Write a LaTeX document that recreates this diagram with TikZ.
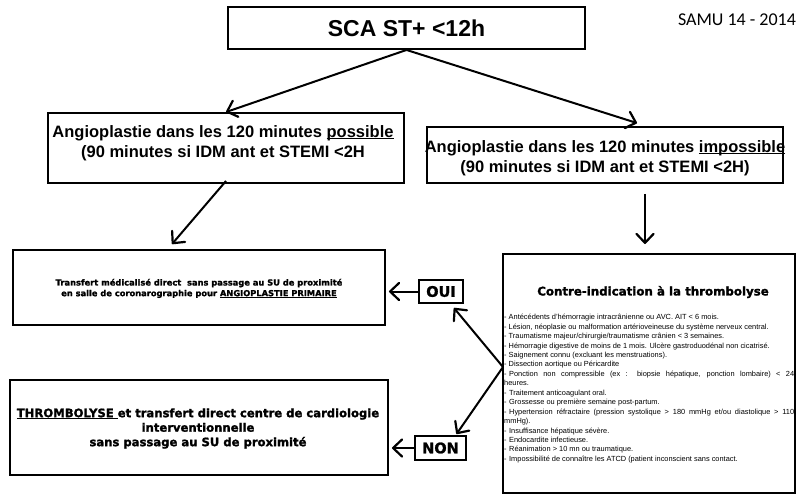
\documentclass[tikz,border=0pt]{standalone}
\usepackage{fontspec}
\setmainfont{Liberation Sans}
\newfontfamily\heavyfont{DejaVu Sans}[BoldFeatures={FakeBold=1.5}]
\newfontfamily\samufont{Carlito}
\usetikzlibrary{arrows.meta,calc}
\newcommand{\myul}[1]{\underline{\smash{#1}}}
\begin{document}
\begin{tikzpicture}[x=1pt,y=-1pt,
  box/.style={draw,line width=1.9pt,inner sep=0pt},
  arr/.style={line width=2pt,-{Straight Barb[length=9pt,width=17pt,line width=2.2pt,round]}},
  bigfont/.style={font=\bfseries\fontsize{16.5}{20}\selectfont,align=center,inner sep=0pt},
  heavy/.style={font=\heavyfont\bfseries\fontsize{#1}{#1}\selectfont,inner sep=0pt},
]
\useasboundingbox[fill=white] (0,0) rectangle (800,499);

% title
\node[box,minimum width=357pt,minimum height=42pt,font=\bfseries\fontsize{23}{26}\selectfont] (top) at (406.5,28) {SCA ST+ <12h};
\node[font=\samufont\fontsize{18}{20}\selectfont,inner sep=0pt] (samu) at (737,20) {SAMU 14 - 2014};

% second row
\node[box,minimum width=356pt,minimum height=70pt] (poss) at (226,148) {};
\node[bigfont] (posstxt) at (223,143) {Angioplastie dans les 120 minutes \myul{possible}\\(90 minutes si IDM ant et STEMI <2H};
\node[box,minimum width=356pt,minimum height=56pt] (imp) at (605,155) {};
\node[bigfont] (imptxt) at (605,158) {Angioplastie dans les 120 minutes \myul{impossible}\\(90 minutes si IDM ant et STEMI <2H)};

% transfert
\node[box,minimum width=372pt,minimum height=75pt] (trans) at (199,287.5) {};
\node[align=center,inner sep=0pt,font=\heavyfont\bfseries\fontsize{8.3}{10.7}\selectfont] (transtxt) at (199,288.5) {Transfert médicalisé direct\ \ sans passage au SU de proximité\\en salle de coronarographie pour \myul{ANGIOPLASTIE PRIMAIRE}};

% thrombolyse
\node[box,minimum width=378pt,minimum height=95pt] (thromb) at (199,427.5) {};
\node[align=center,inner sep=0pt,font=\heavyfont\bfseries\fontsize{11.6}{14.5}\selectfont] (thrombtxt) at (198,428.5) {\myul{THROMBOLYSE }et transfert direct centre de cardiologie\\interventionnelle\\sans passage au SU de proximité};

% OUI / NON
\node[box,minimum width=44pt,minimum height=23pt,heavy=14.5] (oui) at (441,291.5) {OUI};
\node[box,minimum width=51pt,minimum height=24pt,heavy=14.5] (non) at (440.5,448) {NON};

% contre-indication
\node[draw,line width=2pt,minimum width=292pt,minimum height=239pt,inner sep=0pt] (contre) at (649,373.5) {};
\node[heavy=11.8] (contretitle) at (653,292) {Contre-indication à la thrombolyse};
\node[anchor=north west,inner sep=0pt,text width=290pt,align=justify,
      font=\fontsize{7.4}{9.45}\selectfont] (contrelist) at (504,314) {%
\setlength{\parindent}{0pt}%
- Antécédents d'hémorragie intracrânienne ou AVC. AIT < 6 mois.\par
- Lésion, néoplasie ou malformation artérioveineuse du système nerveux central.\par
- Traumatisme majeur/chirurgie/traumatisme crânien < 3 semaines.\par
- Hémorragie digestive de moins de 1 mois. Ulcère gastroduodénal non cicatrisé.\par
- Saignement connu (excluant les menstruations).\par
- Dissection aortique ou Péricardite\par
-\hspace{2.5pt}Ponction non compressible (ex : biopsie hépatique, ponction lombaire) < 24\linebreak heures.\par
-\hspace{2.5pt}Traitement anticoagulant oral.\par
-\hspace{2.5pt}Grossesse ou première semaine post-partum.\par
-\hspace{2.5pt}Hypertension réfractaire (pression systolique > 180 mmHg et/ou diastolique > 110\linebreak mmHg).\par
-\hspace{2.5pt}Insuffisance hépatique sévère.\par
-\hspace{2.5pt}Endocardite infectieuse.\par
-\hspace{2.5pt}Réanimation > 10 mn ou traumatique.\par
-\hspace{2.5pt}Impossibilité de connaître les ATCD (patient inconscient sans contact.};

% connectors
\coordinate (v) at (503,367);
\draw[arr] (top.south) -- (poss.north);
\draw[arr] (top.south) -- ($(imp.north)+(32,-3)$);
\draw[arr] ($(poss.south)+(0,-3)$) -- ($(trans.north)+(-27,-5)$);
\draw[arr] ($(imp.south)+(40,10)$) -- ($(contre.north)+(-4,-9)$);
\draw[arr,shorten >=3pt] (oui.west) -- (oui.west -| trans.east);
\draw[arr,shorten >=3pt] (non.west) -- (non.west -| thromb.east);
\draw[arr] (v) -- ($(oui.south east)+(-10,4)$);
\draw[arr] (v) -- ($(non.north)+(16,-1)$);
\end{tikzpicture}
\end{document}
